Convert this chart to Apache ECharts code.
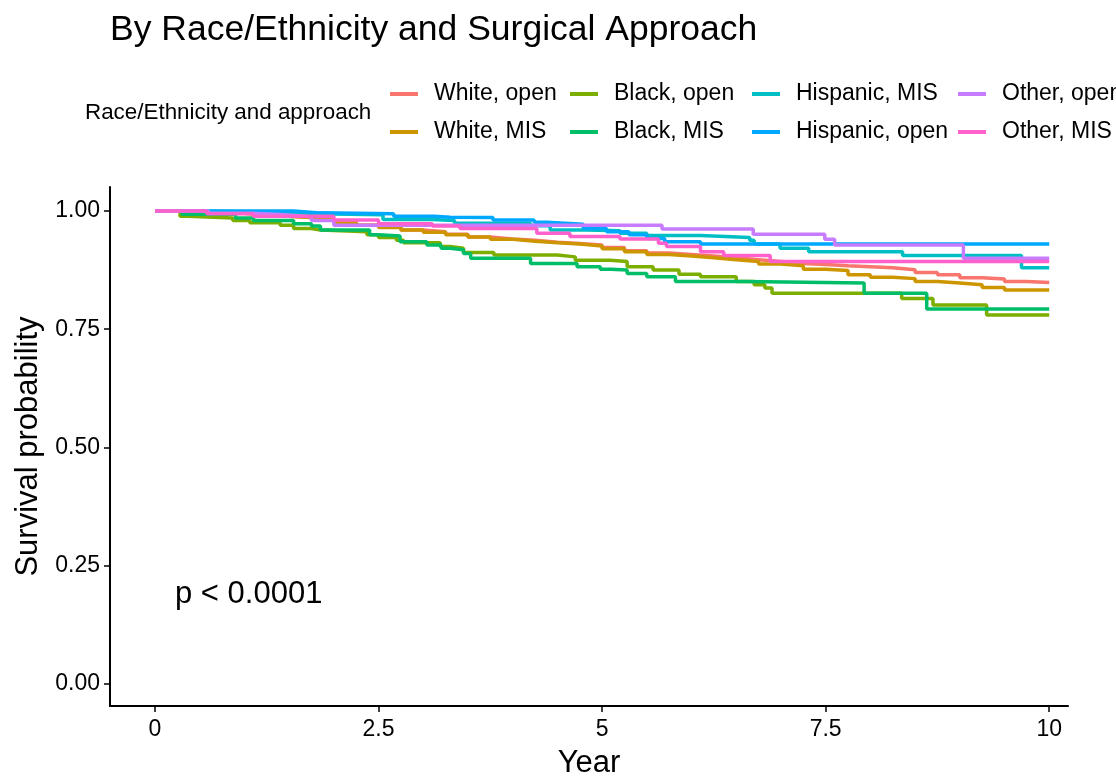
<!DOCTYPE html>
<html>
<head>
<meta charset="utf-8">
<script src="https://cdn.jsdelivr.net/npm/echarts@6/dist/echarts.min.js"></script>
<style>
html,body{margin:0;padding:0;background:#fff;}
#chart{width:1116px;height:781px;}
</style>
</head>
<body>
<div id="chart"></div>
<script>
// ---- Data ----
const seriesNames = ['White, open','White, MIS','Black, open','Black, MIS','Hispanic, MIS','Hispanic, open','Other, open','Other, MIS'];
const seriesColors = ['#F8766D','#CD9600','#7CAE00','#00BE67','#00BFC4','#00A9FF','#C77CFF','#FF61CC'];

const whiteOpen = [[0,1.000],[0.25,0.999],[0.5,0.997],[0.75,0.995],[1.0,0.992],[1.25,0.989],[1.5,0.986],[1.75,0.983],[2.0,0.977],[2.25,0.970],[2.5,0.966],[2.75,0.960],[3.0,0.956],[3.25,0.951],[3.5,0.945],[3.75,0.941],[4.0,0.938],[4.25,0.934],[4.5,0.931],[4.75,0.928],[5.0,0.923],[5.25,0.916],[5.5,0.911],[5.75,0.908],[6.0,0.905],[6.25,0.901],[6.5,0.897],[6.75,0.893],[7.0,0.889],[7.25,0.887],[7.5,0.884],[7.75,0.882],[8.0,0.880],[8.25,0.876],[8.5,0.870],[8.75,0.865],[9.0,0.859],[9.25,0.856],[9.5,0.851],[9.75,0.849],[10.0,0.849]];
const whiteMIS = [[0,1.000],[0.25,0.999],[0.5,0.997],[0.75,0.995],[1.0,0.992],[1.25,0.989],[1.5,0.986],[1.75,0.982],[2.0,0.976],[2.25,0.970],[2.5,0.965],[2.75,0.960],[3.0,0.955],[3.25,0.950],[3.5,0.945],[3.75,0.940],[4.0,0.936],[4.25,0.933],[4.5,0.930],[4.75,0.926],[5.0,0.920],[5.25,0.914],[5.5,0.908],[5.75,0.905],[6.0,0.901],[6.25,0.897],[6.5,0.893],[6.75,0.888],[7.0,0.884],[7.25,0.877],[7.5,0.874],[7.75,0.865],[8.0,0.860],[8.25,0.857],[8.5,0.851],[8.75,0.848],[9.0,0.844],[9.25,0.838],[9.5,0.833],[10.0,0.833]];
const blackOpen = [[0,1.000],[0.28,0.989],[0.37,0.985],[0.87,0.980],[1.06,0.975],[1.4,0.970],[1.55,0.963],[1.75,0.960],[1.85,0.956],[2.37,0.950],[2.5,0.944],[2.7,0.938],[2.78,0.933],[3.19,0.925],[3.3,0.921],[3.45,0.912],[3.79,0.907],[4.5,0.903],[4.7,0.896],[5.09,0.893],[5.28,0.882],[5.57,0.875],[5.86,0.866],[6.1,0.861],[6.5,0.851],[6.7,0.844],[6.82,0.837],[6.9,0.826],[8.35,0.815],[8.70,0.801],[9.30,0.780],[10.0,0.780]];
const blackMIS = [[0,1.000],[0.3,0.993],[0.9,0.985],[1.1,0.980],[1.55,0.973],[1.75,0.968],[1.85,0.960],[2.4,0.950],[2.5,0.947],[2.74,0.935],[3.04,0.928],[3.2,0.921],[3.3,0.918],[3.45,0.910],[3.53,0.900],[4.2,0.889],[4.72,0.882],[4.98,0.877],[5.1,0.875],[5.28,0.868],[5.5,0.861],[5.82,0.851],[6.6,0.848],[7.93,0.826],[8.63,0.793],[10.0,0.793]];
const hispanicMIS = [[0,1.000],[0.5,0.997],[1.55,0.994],[1.8,0.992],[2.55,0.982],[3.1,0.980],[3.35,0.974],[4.2,0.969],[4.42,0.960],[4.83,0.958],[5.2,0.953],[5.5,0.948],[6.1,0.944],[6.65,0.938],[6.7,0.930],[6.99,0.921],[7.31,0.914],[8.36,0.906],[9.69,0.880],[10.0,0.880]];
const hispanicOpen = [[0,1.000],[1.55,0.996],[1.85,0.994],[2.67,0.989],[3.12,0.987],[3.3,0.986],[3.78,0.981],[4.24,0.976],[4.38,0.972],[4.79,0.963],[5.05,0.956],[5.3,0.950],[5.5,0.942],[5.7,0.935],[6.1,0.930],[10.0,0.930]];
const otherOpen = [[0,1.000],[0.6,0.995],[1.1,0.992],[1.45,0.988],[1.75,0.980],[2.0,0.970],[5.67,0.962],[6.69,0.951],[7.49,0.940],[7.6,0.928],[9.04,0.900],[10.0,0.900]];
const otherMIS = [[0,1.000],[0.58,0.994],[1.1,0.989],[2.0,0.981],[2.5,0.973],[3.1,0.968],[3.41,0.963],[4.27,0.953],[4.64,0.946],[5.2,0.941],[5.63,0.932],[5.72,0.925],[6.1,0.914],[6.36,0.906],[6.88,0.893],[10.0,0.893]];

const seriesData = [whiteOpen, whiteMIS, blackOpen, blackMIS, hispanicMIS, hispanicOpen, otherOpen, otherMIS];

const xTicks = [0, 2.5, 5, 7.5, 10];
const yTicks = [0, 0.25, 0.5, 0.75, 1.0];
const titleText = 'By Race/Ethnicity and Surgical Approach';
const legendTitle = 'Race/Ethnicity and approach';
const pText = 'p < 0.0001';

// ---- Chart ----
const FONT = '"Liberation Sans", Arial, sans-serif';
const chart = echarts.init(document.getElementById('chart'), null, {renderer: 'canvas'});

const legendCols = [[0,1],[2,3],[4,5],[6,7]];
const legendLefts = [390, 570, 752, 958];
const legends = legendCols.map((idx, i) => ({
  orient: 'vertical',
  left: legendLefts[i],
  top: 81,
  padding: 0,
  itemWidth: 28,
  itemHeight: 4,
  itemGap: 12,
  icon: 'rect',
  selectedMode: false,
  data: idx.map(k => seriesNames[k]),
  textStyle: {fontFamily: FONT, fontSize: 23, color: '#000', padding: [0,0,0,11], lineHeight: 26}
}));

chart.setOption({
  animation: false,
  backgroundColor: '#fff',
  title: {
    text: titleText,
    left: 110,
    top: 12,
    padding: 0,
    textStyle: {fontFamily: FONT, fontSize: 35.5, fontWeight: 'normal', color: '#000'}
  },
  legend: legends,
  grid: {left: 110, right: 48, top: 187, bottom: 75, containLabel: false, outerBoundsMode: 'none'},
  xAxis: {
    type: 'value',
    min: -0.503,
    max: 10.21,
    name: 'Year',
    nameLocation: 'middle',
    nameGap: 42,
    nameTextStyle: {fontFamily: FONT, fontSize: 31, color: '#000'},
    axisLine: {show: true, onZero: false, lineStyle: {color: '#000', width: 2}},
    axisTick: {show: true, length: 6, lineStyle: {color: '#000', width: 1.5}, customValues: xTicks},
    axisLabel: {fontFamily: FONT, fontSize: 23, color: '#000', margin: 12, customValues: xTicks,
      formatter: v => String(v)},
    splitLine: {show: false}
  },
  yAxis: {
    type: 'value',
    min: -0.0465,
    max: 1.0507,
    name: 'Survival probability',
    nameLocation: 'middle',
    nameGap: 63,
    nameTextStyle: {fontFamily: FONT, fontSize: 31, color: '#000'},
    axisLine: {show: true, onZero: false, lineStyle: {color: '#000', width: 2}},
    axisTick: {show: true, length: 6, lineStyle: {color: '#000', width: 1.5}, customValues: yTicks},
    axisLabel: {fontFamily: FONT, fontSize: 23, color: '#000', margin: 10, customValues: yTicks,
      formatter: v => v.toFixed(2)},
    splitLine: {show: false}
  },
  graphic: [
    {type: 'text', left: 85, top: 102,
      style: {text: legendTitle, fontFamily: FONT, fontSize: 22.4, fill: '#000'}},
    {type: 'text', left: 175, top: 579,
      style: {text: pText, fontFamily: FONT, fontSize: 31, fill: '#000'}}
  ],
  series: seriesNames.map((name, i) => ({
    name: name,
    type: 'line',
    step: 'end',
    showSymbol: false,
    symbol: 'none',
    data: seriesData[i],
    color: seriesColors[i],
    lineStyle: {width: 3.5, color: seriesColors[i]},
    emphasis: {disabled: true}
  }))
});
</script>
</body>
</html>
